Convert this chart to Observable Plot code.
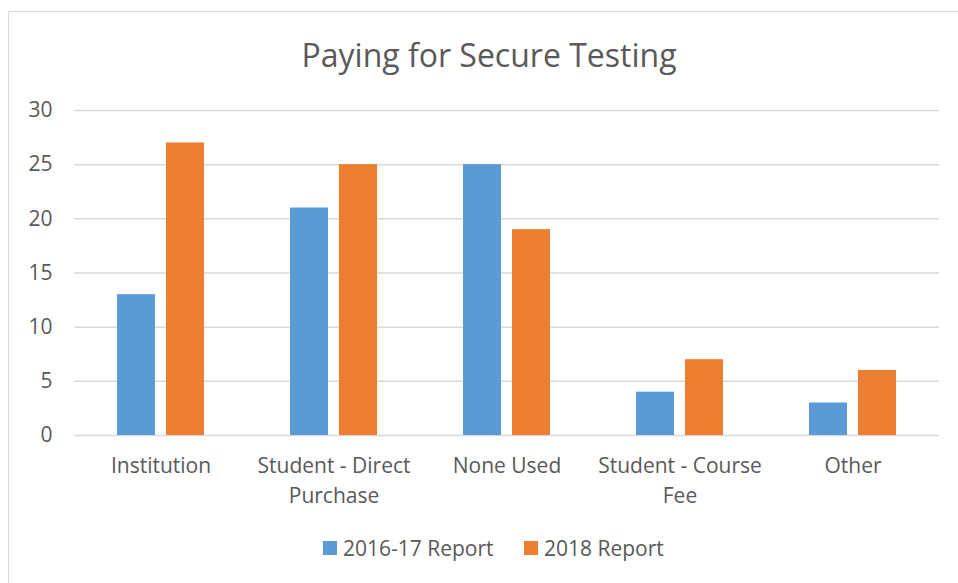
<!DOCTYPE html>
<html>
<head>
<meta charset="utf-8">
<script src="https://cdn.jsdelivr.net/npm/d3@7"></script>
<script src="https://cdn.jsdelivr.net/npm/@observablehq/plot@0.6"></script>
<style>
  html, body { margin: 0; padding: 0; background: #fff; overflow: hidden; }
  body { width: 958px; height: 583px; position: relative; font-family: "Open Sans", "Noto Sans", sans-serif; color: #595959; }
  #frame { position: absolute; left: 8px; top: 11px; width: 990px; height: 600px; border: 1.5px solid #d9d9d9; box-sizing: border-box; }
  #title { position: absolute; left: 0; width: 978px; top: 33px; text-align: center; font-size: 32px; color: #595959; white-space: nowrap; }
  #chart { position: absolute; left: 0; top: 0; }
  #legend { position: absolute; top: 534px; left: 0; width: 958px; font-size: 21px; color: #595959; }
  .item { position: absolute; top: 0; display: flex; align-items: center; height: 28px; white-space: nowrap; }
  .sw { width: 14px; height: 14px; margin-right: 6px; }
</style>
</head>
<body>
<div id="frame"></div>
<div id="title">Paying for Secure Testing</div>
<div id="chart"></div>
<div id="legend"></div>
<script>
const categories = ["Institution", "Student - Direct Purchase", "None Used", "Student - Course Fee", "Other"];
const categoryLabels = ["Institution", "Student - Direct\nPurchase", "None Used", "Student - Course\nFee", "Other"];
const seriesNames = ["2016-17 Report", "2018 Report"];
const values2016 = [13, 21, 25, 4, 3];
const values2018 = [27, 25, 19, 7, 6];
const colors = ["#5b9bd5", "#ed7d31"];
const yTicks = [0, 5, 10, 15, 20, 25, 30];

const data = [];
categories.forEach((c, i) => {
  data.push({category: c, series: seriesNames[0], value: values2016[i]});
  data.push({category: c, series: seriesNames[1], value: values2018[i]});
});
const labelOf = new Map(categories.map((c, i) => [c, categoryLabels[i]]));

const chart = Plot.plot({
  width: 958,
  height: 520,
  marginLeft: 73,
  marginRight: 18,
  marginTop: 110,
  marginBottom: 85,
  style: { fontFamily: "'Open Sans', 'Noto Sans', sans-serif", fontSize: "21px", color: "#595959", background: "transparent", overflow: "visible" },
  fx: { domain: categories, padding: 0, label: null },
  x: { domain: seriesNames, paddingInner: 0.22, paddingOuter: 0.844, axis: null },
  y: { domain: [0, 30], label: null },
  color: { domain: seriesNames, range: colors },
  marks: [
    Plot.gridY(yTicks, { stroke: "#d9d9d9", strokeOpacity: 1, strokeWidth: 1.5 }),
    Plot.barY(data, { fx: "category", x: "series", y: "value", fill: "series" }),
    Plot.axisY(yTicks, { tickSize: 0, tickPadding: 22, label: null, fontSize: 21 }),
    Plot.axisFx({ anchor: "bottom", tickSize: 0, tickPadding: 17, label: null, fontSize: 21, lineHeight: 1.4, tickFormat: d => labelOf.get(d) })
  ]
});
document.getElementById("chart").appendChild(chart);

const legend = document.getElementById("legend");
const positions = [323, 524];
seriesNames.forEach((s, i) => {
  const item = document.createElement("div");
  item.className = "item";
  item.style.left = positions[i] + "px";
  const sw = document.createElement("div");
  sw.className = "sw";
  sw.style.background = colors[i];
  const t = document.createElement("span");
  t.textContent = s;
  item.appendChild(sw);
  item.appendChild(t);
  legend.appendChild(item);
});
</script>
</body>
</html>
